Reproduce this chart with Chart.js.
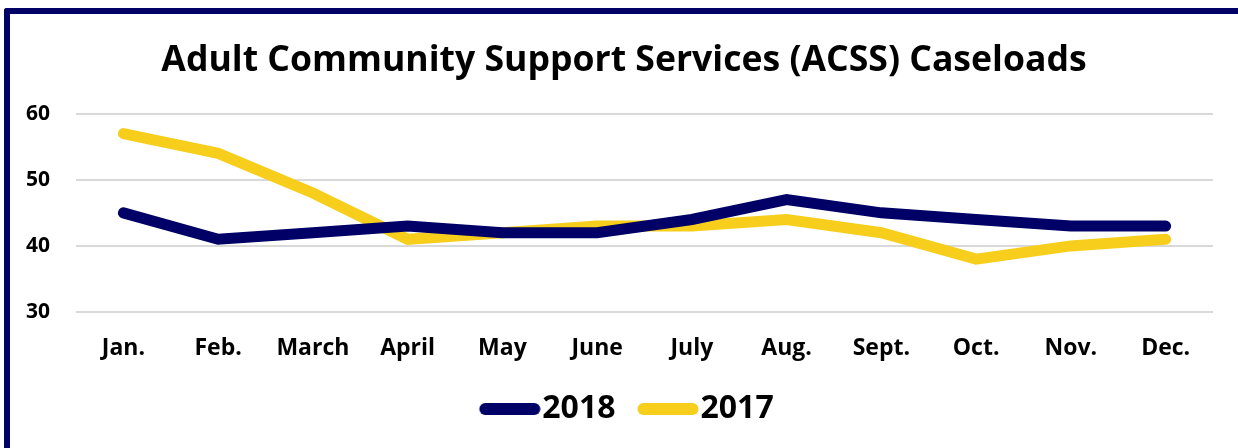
<!DOCTYPE html>
<html>
<head>
<meta charset="utf-8">
<script src="https://cdn.jsdelivr.net/npm/chart.js@4"></script>
<style>
  html, body { margin: 0; padding: 0; background: #ffffff; overflow: hidden; }
  #wrap { position: relative; width: 1238px; height: 448px; }
  #frame { position: absolute; left: 4px; top: 8px; width: 1400px; height: 600px;
           border-left: 6px solid #000066; border-top: 6px solid #000066;
           border-top-left-radius: 3px; pointer-events: none; }
  canvas { position: absolute; left: 0; top: 0; }
</style>
</head>
<body>
<div id="wrap">
  <canvas id="c" width="1238" height="448"></canvas>
  <div id="frame"></div>
</div>
<script>
const titleText = "Adult Community Support Services (ACSS) Caseloads";
const months = ["Jan.", "Feb.", "March", "April", "May", "June", "July", "Aug.", "Sept.", "Oct.", "Nov.", "Dec."];
const seriesNames = ["2018", "2017"];
const values2018 = [45, 41, 42, 43, 42, 42, 44, 47, 45, 44, 43, 43];
const values2017 = [57, 54, 48, 41, 42, 43, 43, 44, 42, 38, 40, 41];
const yTicks = [30, 40, 50, 60];

const NAVY = "#000066";
const GOLD = "#F6CE1B";
const FONT = "'Open Sans', 'Noto Sans', sans-serif";

// legend swatch: a thick round-capped line, placed so it sits close to its text
function swatch(color) {
  const cv = document.createElement("canvas");
  cv.width = 88; cv.height = 14;
  const g = cv.getContext("2d");
  g.strokeStyle = color; g.lineWidth = 12; g.lineCap = "round";
  g.beginPath(); g.moveTo(32.5, 7); g.lineTo(81.5, 7); g.stroke();
  return cv;
}
const swatches = [swatch(NAVY), swatch(GOLD)];

// the title and legend in the reference are centred a little right of the canvas centre
const centreShift = {
  id: "centreShift",
  afterLayout(chart) {
    if (chart.titleBlock) chart.titleBlock.left += 35;
    if (chart.legend) chart.legend.left += 28;
  }
};

new Chart(document.getElementById("c"), {
  type: "line",
  data: {
    labels: months,
    datasets: [
      { label: seriesNames[0], data: values2018, borderColor: NAVY, backgroundColor: NAVY,
        borderWidth: 11, borderCapStyle: "round", borderJoinStyle: "miter", pointRadius: 0, tension: 0 },
      { label: seriesNames[1], data: values2017, borderColor: GOLD, backgroundColor: GOLD,
        borderWidth: 11, borderCapStyle: "round", borderJoinStyle: "miter", pointRadius: 0, tension: 0 }
    ]
  },
  plugins: [centreShift],
  options: {
    responsive: false,
    animation: false,
    layout: { padding: { left: 0, right: 25, top: 0, bottom: 13 } },
    plugins: {
      title: {
        display: true, text: titleText, color: "#000000",
        font: { family: FONT, size: 35.6, weight: "bold" },
        padding: { top: 39, bottom: 32 }
      },
      legend: {
        position: "bottom",
        labels: {
          usePointStyle: true, pointStyleWidth: 59,
          color: "#000000", padding: 10,
          font: { family: FONT, size: 32, weight: "bold" },
          generateLabels: (chart) => Chart.defaults.plugins.legend.labels.generateLabels(chart)
            .map((item, i) => Object.assign(item, { pointStyle: swatches[i] }))
        }
      },
      tooltip: { enabled: false }
    },
    scales: {
      x: {
        offset: true,
        grid: { display: false, drawTicks: false },
        border: { display: false },
        ticks: { color: "#000000", padding: 23, font: { family: FONT, size: 23, weight: "bold" } },
        afterFit: (s) => { s.height = 71; }
      },
      y: {
        min: yTicks[0], max: yTicks[yTicks.length - 1],
        afterBuildTicks: (s) => { s.ticks = yTicks.map(v => ({ value: v })); },
        grid: { color: "#D9D9D9", lineWidth: 2, drawTicks: false },
        border: { display: false },
        ticks: { color: "#000000", padding: 26, font: { family: FONT, size: 21, weight: "bold" } }
      }
    }
  }
});
</script>
</body>
</html>
